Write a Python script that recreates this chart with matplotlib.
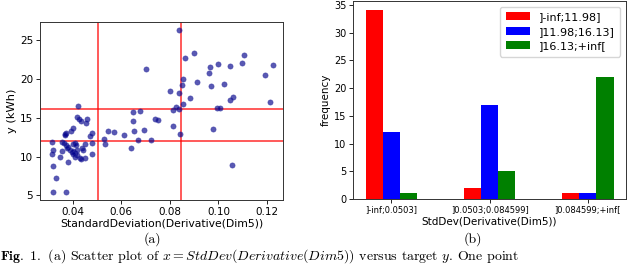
import matplotlib
matplotlib.use("Agg")
import matplotlib.pyplot as plt
import numpy as np

plt.rcParams['mathtext.fontset'] = 'cm'

# ---- scatter data (x = StdDev(Derivative(Dim5)), y in kWh) ----
x_left_red = [0.0316, 0.0357, 0.0364, 0.0373, 0.0382, 0.0403, 0.0410, 0.0414, 0.0451,
              0.0478, 0.0320, 0.0313, 0.0355, 0.0348, 0.0375, 0.0389, 0.0396, 0.0403,
              0.0410, 0.0416, 0.0416, 0.0430, 0.0410, 0.0399, 0.0437, 0.0444, 0.0451,
              0.0433, 0.0478, 0.0382, 0.0318, 0.0330, 0.0318, 0.0373]
y_left_red = [11.9, 11.9, 11.8, 11.5, 11.2, 11.6, 11.7, 11.5, 11.6,
              11.7, 10.85, 10.33, 10.72, 9.99, 11.06, 10.85, 10.55, 10.72,
              10.42, 10.85, 10.2, 9.86, 9.99, 10.29, 11.15, 10.85, 9.77,
              9.64, 10.33, 9.26, 8.78, 7.19, 5.47, 5.47]
x_left_blue = [0.0416, 0.0426, 0.0433, 0.0458, 0.0455, 0.0403, 0.0392, 0.0373, 0.0368,
               0.0478, 0.0471, 0.0366]
y_left_blue = [15.06, 14.85, 14.59, 14.85, 14.29, 13.65, 13.3, 13.09, 12.87,
               13.09, 12.7, 12.75]
x_left_green = [0.0421]
y_left_green = [16.57]

x_mid = [0.0529, 0.0547, 0.0570, 0.0613, 0.0647, 0.0647, 0.0654, 0.0678, 0.0668,
         0.0694, 0.0723, 0.0740, 0.0751, 0.0811, 0.0811, 0.0839, 0.0843,
         0.0533, 0.0639,
         0.0836, 0.0701, 0.0801, 0.0839, 0.0825]
y_mid = [12.27, 13.34, 13.2, 12.8, 14.63, 15.7, 13.3, 15.92, 12.14,
         13.43, 12.14, 14.8, 14.72, 13.95, 16.0, 16.1, 12.87,
         11.58, 11.15,
         26.3, 21.3, 18.5, 18.25, 16.4]

x_right = [0.1058, 0.0977,
           0.0863, 0.0898, 0.0856, 0.0848, 0.0854, 0.0881, 0.0911, 0.0964, 0.0962,
           0.0970, 0.0997, 0.1024, 0.1049, 0.1097, 0.1107, 0.1193, 0.1223, 0.1214,
           0.0994, 0.1007, 0.1046, 0.1060]
y_right = [8.87, 13.6,
           22.76, 23.4, 19.97, 19.26, 16.8, 17.56, 19.6, 21.5, 20.8,
           19.06, 21.9, 19.4, 21.7, 22.1, 23.06, 20.5, 21.8, 17.04,
           16.3, 16.3, 17.34, 17.69]

x_thresholds = [0.0503, 0.084599]
y_thresholds = [11.98, 16.13]

# ---- bar data ----
x_bins = [']-inf;0.0503]', ']0.0503;0.084599]', ']0.084599;+inf[']
y_classes = [']-inf;11.98]', ']11.98;16.13]', ']16.13;+inf[']
freq_low = [34, 2, 1]
freq_mid = [12, 17, 1]
freq_high = [1, 5, 22]
bar_colors = ['#ff0000', '#0000ff', '#008000']

fig = plt.figure(figsize=(6.4, 2.65), dpi=100)

# ---- (a) scatter ----
ax1 = fig.add_axes([0.0625, 0.245, 0.38, 0.672])
xs = x_left_red + x_left_blue + x_left_green + x_mid + x_right
ys = y_left_red + y_left_blue + y_left_green + y_mid + y_right
ax1.scatter(xs, ys, s=14, color='#00008b', alpha=0.65, edgecolors='#3030a0', linewidths=0.5, zorder=3)
for xv in x_thresholds:
    ax1.axvline(xv, color='red', alpha=0.7, lw=1.3, zorder=2)
for yv in y_thresholds:
    ax1.axhline(yv, color='red', alpha=0.7, lw=1.3, zorder=2)
ax1.set_xlim(0.0265, 0.1267)
ax1.set_ylim(4.39, 27.36)
ax1.set_xticks([0.04, 0.06, 0.08, 0.10, 0.12])
ax1.set_xticklabels(['0.04', '0.06', '0.08', '0.10', '0.12'])
ax1.set_yticks([5, 10, 15, 20, 25])
ax1.tick_params(labelsize=7.5, length=3, width=0.6, pad=2)
ax1.set_xlabel('StandardDeviation(Derivative(Dim5))', fontsize=7.8, labelpad=1)
ax1.set_ylabel('y (kWh)', fontsize=8.2, labelpad=2)
for s in ax1.spines.values():
    s.set_linewidth(0.7)
    s.set_color('#333333')

# ---- (b) bars ----
ax2 = fig.add_axes([0.552, 0.249, 0.426, 0.747])
pos = np.arange(len(x_bins))
w = 0.175
for i, (vals, c, lab) in enumerate(zip([freq_low, freq_mid, freq_high], bar_colors, y_classes)):
    ax2.bar(pos + (i - 1) * w, vals, width=w, color=c, label=lab)
ax2.set_xticks(pos)
ax2.set_xticklabels(x_bins, fontsize=6)
ax2.set_yticks([0, 5, 10, 15, 20, 25, 30, 35])
ax2.tick_params(axis='y', labelsize=7)
ax2.tick_params(length=3, width=0.6, pad=2)
ax2.set_xlabel('StdDev(Derivative(Dim5))', fontsize=7.5, labelpad=1)
ax2.set_ylabel('frequency', fontsize=7.5, labelpad=2)
ax2.legend(loc='upper right', fontsize=8, handlelength=2.2, borderpad=0.5, labelspacing=0.4)
for s in ax2.spines.values():
    s.set_linewidth(0.7)
    s.set_color('#333333')

# ---- captions ----
fig.text(0.2375, 1 - 239 / 265, '(a)', fontsize=10, family='cmr10', ha='center', va='center')
fig.text(0.739, 1 - 239 / 265, '(b)', fontsize=10, family='cmr10', ha='center', va='center')
fig.text(0.0, 0.0,
         r'$\mathbf{Fig.\ 1.}$ (a) Scatter plot of $x = StdDev(Derivative(Dim5))$ versus target $y$. One point',
         fontsize=10, family='cmr10', ha='left', va='bottom')

fig.savefig('out.png', dpi=100)
